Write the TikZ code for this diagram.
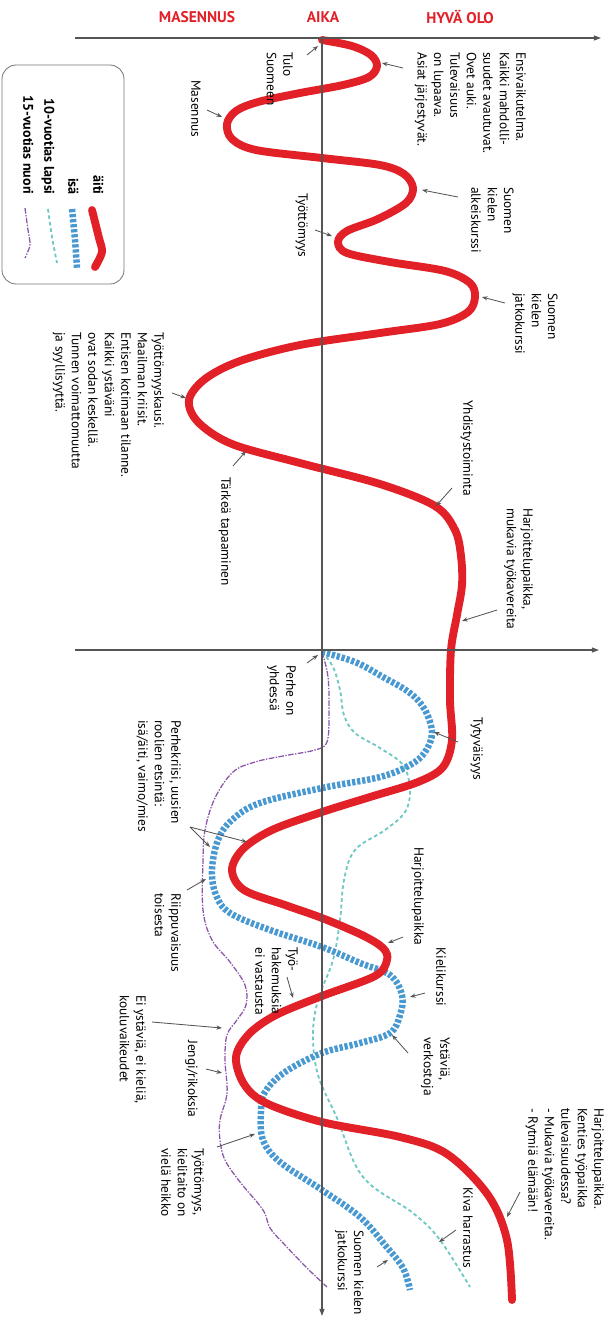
\documentclass[tikz,border=0pt]{standalone}
\usepackage{fontspec}
\setmainfont{PT Sans}
\usetikzlibrary{arrows.meta}
\definecolor{punainen}{RGB}{226,32,40}
\definecolor{sininen}{RGB}{72,152,210}
\definecolor{turkoosi}{RGB}{110,200,195}
\definecolor{violetti}{RGB}{140,85,170}
\definecolor{harmaa}{RGB}{85,85,85}
\begin{document}
\begin{tikzpicture}[x=0.025cm,y=-0.025cm,
  aiti/.style={punainen,line width=5.6pt,line cap=round},
  isa/.style={sininen,line width=4.6pt,dash pattern=on 2.3pt off 1.3pt},
  lapsi/.style={turkoosi,line width=1.3pt,dash pattern=on 2.6pt off 2pt},
  nuori/.style={violetti,line width=0.9pt,dash pattern=on 4pt off 1pt on 1pt off 1pt},
  akseli/.style={harmaa,line width=0.8pt,-{Triangle[length=5pt,width=3.5pt]}},
  nuoli/.style={harmaa,line width=0.6pt,-{Stealth[length=4pt,width=3pt]}},
  lbl/.style={rotate=-90,anchor=north west,align=left,inner sep=0pt,
    font=\fontsize{9.5}{11.7}\selectfont},
  otsikko/.style={punainen,font=\fontsize{11}{13}\selectfont\bfseries},
  selite/.style={rotate=-90,anchor=mid east,inner sep=0pt,
    font=\fontsize{10}{12}\selectfont\bfseries}]
\useasboundingbox (0,0) rectangle (605,1324);

% otsikot
\node[otsikko] (masennus) at (197,17) {MASENNUS};
\node[otsikko] (aika) at (323,17) {AIKA};
\node[otsikko] (hyva) at (460,17) {HYVÄ OLO};

% selite
\draw[harmaa!80,line width=0.6pt,rounded corners=10pt] (2,65) rectangle (124,284);
\node[selite] (s-aiti) at (97,195) {äiti};
\node[selite] (s-isa) at (72,195) {isä};
\node[selite] (s-lapsi) at (48,195) {10-vuotias lapsi};
\node[selite] (s-nuori) at (27,195) {15-vuotias nuori};
\draw[aiti] plot[smooth] coordinates {(92,210) (99,238) (102,252) (95,267)};
\draw[isa] plot[smooth] coordinates {(72,209) (75,240) (77,268)};
\draw[lapsi] plot[smooth] coordinates {(48,209) (52,237) (57,263)};
\draw[nuori] plot[smooth] coordinates {(25,208) (28,230) (30,245) (25,258)};

% kayrat
\draw[lapsi] plot[smooth,tension=0.6] coordinates {(322,652) (333,667) (340,690)
  (344,715) (355,733) (380,748) (403,765) (410,790) (405,812) (385,830) (355,850)
  (344,880) (340,920) (333,960) (318,1000) (313,1035) (318,1075) (337,1118)
  (363,1177) (413,1213) (440,1240) (470,1287)};
\draw[nuori] plot[smooth,tension=0.6] coordinates {(322,652) (328,677) (329,713)
  (327,742) (315,750) (283,756) (255,762) (233,772) (215,798) (205,830) (203,860)
  (203,910) (212,940) (230,962) (245,985) (246,1005) (237,1020) (227,1035)
  (225,1060) (227,1093) (220,1120) (220,1140) (225,1160) (240,1182) (263,1210)
  (270,1228) (285,1245) (307,1268) (327,1287)};
\draw[isa] plot[smooth,tension=0.6] coordinates {(322,652) (355,662) (383,677)
  (410,693) (425,710) (432,733) (425,752) (410,765) (380,777) (322,788) (260,803)
  (232,820) (218,840) (212,870) (216,895) (230,913) (270,930) (322,947) (360,963)
  (390,975) (402,995) (400,1015) (390,1033) (360,1043) (322,1053) (285,1072)
  (265,1092) (261,1112) (263,1140) (280,1162) (322,1190) (360,1217) (385,1245)
  (403,1268) (410,1290)};
\draw[aiti] plot[smooth,tension=0.55] coordinates {(322,40) (352,46) (371,55)
  (377,66) (369,77) (343,85) (300,93) (258,102) (236,111) (227,124) (232,139)
  (256,150) (322,158) (380,165) (404,174) (413,188) (406,203) (378,219) (347,231)
  (338,242) (347,253) (390,262) (445,271) (470,283) (475,297) (468,312) (440,324)
  (380,333) (300,345) (240,361) (205,379) (189,400) (198,422) (232,444) (300,463)
  (380,484) (435,506) (455,530) (461,556) (462,585) (457,615) (451,650) (450,700)
  (452,740) (443,767) (418,782) (370,797) (322,812) (272,830) (243,849) (232,870)
  (244,890) (285,905) (322,918) (362,935) (383,948) (387,960) (375,976) (322,996)
  (276,1015) (249,1034) (236,1057) (244,1084) (266,1103) (322,1122) (400,1137)
  (447,1154) (488,1195) (507,1240) (512,1300)};

% akselit
\coordinate (o1) at (322,38);
\coordinate (x1a) at (75,38);
\coordinate (x1b) at (601,38);
\coordinate (x2a) at (75,650);
\coordinate (x2b) at (599,650);
\coordinate (yb) at (322,1316);
\draw[akseli] (x1a) -- (x1b);
\draw[akseli] (x2a) -- (x2b);
\draw[akseli] (o1) -- (yb);

% tekstit
\node[lbl] (ensi) at (526,52) {Ensivaikutelma.\\Kaikki mahdolli-\\suudet avautuvat.\\Ovet auki.\\Tulevaisuus\\on lupaava.\\Asiat järjestyvät.};
\node[lbl] (tulo) at (293,52) {Tulo\\Suomeen};
\node[lbl] (mas) at (201,80) {Masennus};
\node[lbl] (tyot1) at (308,193) {Työttömyys};
\node[lbl] (alkeis) at (514,187) {Suomen\\kielen\\alkeiskurssi};
\node[lbl] (jatko1) at (558,293) {Suomen\\kielen\\jatkokurssi};
\node[lbl] (kausi) at (164,332) {Työttömyyskausi.\\Maailman kriisit.\\Entisen kotimaan tilanne.\\Kaikki ystäväni\\ovat sodan keskellä.\\Tunnen voimattomuutta\\ja syyllisyyttä.};
\node[lbl] (tarkea) at (231,477) {Tärkeä tapaaminen};
\node[lbl] (yhd) at (473,400) {Yhdistystoiminta};
\node[lbl] (harj1) at (533,508) {Harjoittelupaikka,\\mukavia työkavereita};
\node[lbl] (perhe) at (296,665) {Perhe on\\yhdessä};
\node[lbl] (tyyty) at (483,717) {Tytyväisyys};
\node[lbl] (kriisi) at (181,720) {Perhekriisi, uusien\\roolien etsintä:\\isä/äiti, vaimo/mies};
\node[lbl] (riippu) at (181,893) {Riippuvaisuus\\toisesta};
\node[lbl] (hakem) at (298,947) {Työ-\\hakemuksia\\ei vastausta};
\node[lbl] (harj2) at (424,847) {Harjoittelupaikka};
\node[lbl] (kieli) at (446,947) {Kielikurssi};
\node[lbl] (ystav) at (450,1037) {Ystäviä,\\verkostoja};
\node[lbl] (eiyst) at (146,995) {Ei ystäviä, ei kieliä,\\kouluvaikeudet};
\node[lbl] (jengi) at (198,1040) {Jengi/rikoksia};
\node[lbl] (tyot2) at (204,1148) {Työttömyys,\\kielitaito on\\vielä heikko};
\node[lbl] (jatko2) at (364,1230) {Suomen kielen\\jatkokurssi};
\node[lbl] (harj3) at (604,1108) {Harjoittelupaikka.\\Kenties työpaikka\\tulevaisuudessa?\\- Mukavia työkavereita.\\- Rytmiä elämään!};
\node[lbl] (kiva) at (473,1187) {Kiva harrastus};

% nuolet
\coordinate (ensi-a) at (403,68);   \coordinate (ensi-b) at (382,63);
\coordinate (tulo-a) at (307,55);   \coordinate (tulo-b) at (318,46);
\coordinate (mas-a) at (207,110);   \coordinate (mas-b) at (222,117);
\coordinate (tyot1-a) at (315,230); \coordinate (tyot1-b) at (332,236);
\coordinate (alkeis-a) at (458,197); \coordinate (alkeis-b) at (422,190);
\coordinate (jatko1-a) at (505,303); \coordinate (jatko1-b) at (482,297);
\coordinate (kausi-a) at (172,393); \coordinate (kausi-b) at (186,398);
\coordinate (tarkea-a) at (233,466); \coordinate (tarkea-b) at (246,451);
\coordinate (yhd-a) at (452,488);   \coordinate (yhd-b) at (436,506);
\coordinate (harj1-a) at (497,610); \coordinate (harj1-b) at (462,621);
\coordinate (perhe-a) at (307,663); \coordinate (perhe-b) at (318,655);
\coordinate (tyyty-a) at (458,742); \coordinate (tyyty-b) at (434,732);
\coordinate (kriisi-a) at (190,827); \coordinate (kriisi-b) at (247,842);
\coordinate (kriisi-c) at (210,847);
\coordinate (riippu-a) at (187,890); \coordinate (riippu-b) at (206,879);
\coordinate (hakem-a) at (287,977); \coordinate (hakem-b) at (293,998);
\coordinate (harj2-a) at (403,937); \coordinate (harj2-b) at (388,943);
\coordinate (kieli-a) at (425,993); \coordinate (kieli-b) at (410,997);
\coordinate (ystav-a) at (408,1053); \coordinate (ystav-b) at (392,1035);
\coordinate (eiyst-a) at (152,1022); \coordinate (eiyst-b) at (222,1028);
\coordinate (jengi-a) at (206,1069); \coordinate (jengi-b) at (222,1073);
\coordinate (tyot2-a) at (217,1147); \coordinate (tyot2-b) at (255,1134);
\coordinate (jatko2-a) at (377,1267); \coordinate (jatko2-b) at (388,1260);
\coordinate (harj3-a) at (520,1192); \coordinate (harj3-b) at (507,1217);
\coordinate (kiva-a) at (456,1230); \coordinate (kiva-b) at (439,1242);
\foreach \n in {ensi,tulo,mas,tyot1,alkeis,jatko1,kausi,tarkea,yhd,harj1,perhe,
  tyyty,kriisi,riippu,hakem,harj2,kieli,ystav,eiyst,jengi,tyot2,jatko2,harj3,kiva}
  \draw[nuoli] (\n-a) -- (\n-b);
\draw[nuoli] (kriisi-a) -- (kriisi-c);

\end{tikzpicture}
\end{document}
